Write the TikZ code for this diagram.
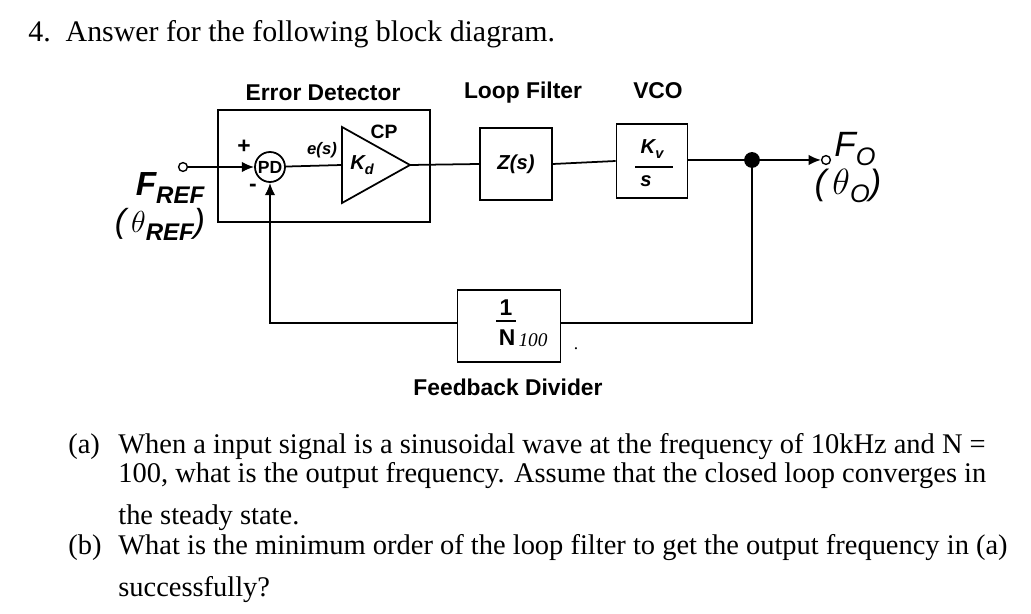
\documentclass[tikz,border=0pt]{standalone}
\usepackage{fontspec}
\setmainfont{Liberation Serif}
\setsansfont{Liberation Sans}
\usetikzlibrary{arrows.meta}
\newcommand{\lowsub}[1]{\raisebox{-0.45ex}{\scalebox{0.72}{#1}}}
\begin{document}
\begin{tikzpicture}[x=0.02cm,y=-0.02cm,
  lbl/.style={font=\sffamily\bfseries\fontsize{13}{15}\selectfont},
  it/.style={font=\sffamily\bfseries\itshape\fontsize{11.5}{13}\selectfont},
  blk/.style={draw,line width=1pt,inner sep=0pt},
  wire/.style={line width=1pt},
  arr/.style={wire,-{Latex[length=7pt,width=6pt]}},
  q/.style={font=\fontsize{16.2}{19}\selectfont,anchor=base west,inner sep=0pt}]
\useasboundingbox (0,0) rectangle (1031,614);
\node[q,font=\fontsize{17}{19}\selectfont] (title) at (28,42) {4.\ \ Answer for the following block diagram.};
% boxes
\node[blk,minimum width=212*0.02cm,minimum height=112*0.02cm] (ed) at (324,166) {};
\node[lbl] (edl) at (323,93) {Error Detector};
\node[lbl] (lfl) at (523,93) {Loop Filter};
\node[lbl] (vcol) at (658,91) {VCO};
\node[draw,circle,inner sep=0pt,minimum size=5pt,line width=0.8pt] (in) at (183,167) {};
\node[draw,circle,line width=1pt,minimum size=30*0.02cm,inner sep=0pt,font=\sffamily\bfseries\fontsize{10}{10}\selectfont] (pd) at (270,167) {PD};
\coordinate (kdin) at (342,165);
\coordinate (kdap) at (410,165);
\draw[line width=1pt] (342,127) -- (kdap) -- (342,203) -- cycle;
\node[it] (kd) at (362,165) {K\lowsub{d}};
\node[lbl,font=\sffamily\bfseries\fontsize{11}{12}\selectfont] (cp) at (384,132) {CP};
\node[it,font=\sffamily\bfseries\itshape\fontsize{9.5}{10}\selectfont] (es) at (322,150) {e(s)};
\node[font=\sffamily\bfseries\fontsize{13}{13}\selectfont] at (244,147) {+};
\node[font=\sffamily\bfseries\fontsize{13}{13}\selectfont,inner sep=0pt] at (253,188) {-};
\node[blk,minimum width=72*0.02cm,minimum height=72*0.02cm,it] (z) at (516,164) {Z(s)};
\node[blk,minimum width=71*0.02cm,minimum height=74*0.02cm] (vco) at (652,161) {};
\node[it] at (652,149) {K\lowsub{v}};
\draw[wire] (635,167) -- (673,167);
\node[it] at (646,181) {s};
\node[blk,minimum width=103*0.02cm,minimum height=72*0.02cm] (div) at (509,326) {};
\node[font=\sffamily\bfseries\fontsize{13}{13}\selectfont] at (506,308) {1};
\draw[wire] (496,321) -- (516,321);
\node[font=\sffamily\bfseries\fontsize{13}{13}\selectfont] at (507,338) {N};
\node[font=\itshape\fontsize{11}{11}\selectfont] at (533,340) {100};
\node at (576,349) {.};
\node[lbl] (fdl) at (508,387) {Feedback Divider};
\fill (752,160) circle (4.5pt) coordinate (j);
\node[draw,circle,inner sep=0pt,minimum size=5pt,line width=0.8pt] (out) at (826,160) {};
\node[font=\sffamily\itshape\fontsize{20}{20}\selectfont] at (855,149) {F\lowsub{O}};
\node[font=\sffamily\itshape\fontsize{20}{20}\selectfont] at (848,186) {($\,\theta$\lowsub{O})};
\node[font=\sffamily\bfseries\itshape\fontsize{19}{19}\selectfont] at (170,188) {F\lowsub{REF}};
\node[font=\sffamily\itshape\fontsize{19}{19}\selectfont,inner sep=0pt] at (160,224) {($\,\theta$\lowsub{\bfseries REF})};
% wires
\draw[arr] (in) -- (pd);
\draw[wire] (pd) -- (kdin);
\draw[wire] (kdap) -- (z.west);
\draw[wire] (z.east) -- (vco.west);
\draw[wire] (vco.east |- j) -- (j);
\draw[arr] (j) -- (out);
\draw[wire] (j) |- (div.east |- 0,323);
\draw[arr] (div.west |- 0,323) -| (pd.south);
% questions
\node[q] at (68,454) {(a)};
\node[q] at (118,454) {When a input signal is a sinusoidal wave at the frequency of 10kHz and N =};
\node[q] at (118,483) {100, what is the output frequency. Assume that the closed loop converges in};
\node[q] at (118,524) {the steady state.};
\node[q] at (68,555) {(b)};
\node[q] at (118,555) {What is the minimum order of the loop filter to get the output frequency in (a)};
\node[q] at (118,596) {successfully?};
\end{tikzpicture}
\end{document}
